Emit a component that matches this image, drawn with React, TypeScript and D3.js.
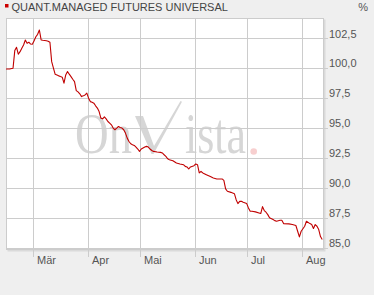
import React, { useEffect } from "react";
import * as d3 from "d3";

const title = "QUANT.MANAGED FUTURES UNIVERSAL";
const unitLabel = "%";
const monthTicks = ["2013-03-01", "2013-04-01", "2013-05-01", "2013-06-01", "2013-07-01", "2013-08-01"];
const monthLabels = ["Mär", "Apr", "Mai", "Jun", "Jul", "Aug"];
const yTicks = [85, 87.5, 90, 92.5, 95, 97.5, 100, 102.5];
const yTickLabels = ["85,0", "87,5", "90,0", "92,5", "95,0", "97,5", "100,0", "102,5"];

const dates = [
  "2013-02-13", "2013-02-15", "2013-02-17", "2013-02-18", "2013-02-19", "2013-02-20", "2013-02-21", "2013-02-22",
  "2013-02-23", "2013-02-24", "2013-02-25", "2013-02-26", "2013-02-27", "2013-02-28", "2013-03-01", "2013-03-02",
  "2013-03-03", "2013-03-04", "2013-03-05", "2013-03-06", "2013-03-08", "2013-03-09", "2013-03-10", "2013-03-11",
  "2013-03-12", "2013-03-13", "2013-03-15", "2013-03-16", "2013-03-17", "2013-03-18", "2013-03-19", "2013-03-20",
  "2013-03-21", "2013-03-22", "2013-03-23", "2013-03-24", "2013-03-25", "2013-03-26", "2013-03-27", "2013-03-28",
  "2013-03-29", "2013-03-30", "2013-03-31", "2013-04-01", "2013-04-02", "2013-04-03", "2013-04-04", "2013-04-05",
  "2013-04-06", "2013-04-07", "2013-04-08", "2013-04-09", "2013-04-10", "2013-04-11", "2013-04-12", "2013-04-13",
  "2013-04-14", "2013-04-15", "2013-04-16", "2013-04-17", "2013-04-18", "2013-04-19", "2013-04-20", "2013-04-21",
  "2013-04-22", "2013-04-23", "2013-04-24", "2013-04-25", "2013-04-26", "2013-04-27", "2013-04-28", "2013-04-29",
  "2013-04-30", "2013-05-01", "2013-05-02", "2013-05-03", "2013-05-04", "2013-05-05", "2013-05-06", "2013-05-07",
  "2013-05-08", "2013-05-10", "2013-05-12", "2013-05-13", "2013-05-14", "2013-05-15", "2013-05-16", "2013-05-17",
  "2013-05-19", "2013-05-21", "2013-05-23", "2013-05-25", "2013-05-26", "2013-05-27", "2013-05-28", "2013-05-29",
  "2013-05-31", "2013-06-01", "2013-06-02", "2013-06-03", "2013-06-04", "2013-06-05", "2013-06-07", "2013-06-09",
  "2013-06-11", "2013-06-13", "2013-06-16", "2013-06-17", "2013-06-18", "2013-06-19", "2013-06-21", "2013-06-23",
  "2013-06-24", "2013-06-25", "2013-06-26", "2013-06-27", "2013-06-28", "2013-06-30", "2013-07-01", "2013-07-02",
  "2013-07-03", "2013-07-05", "2013-07-07", "2013-07-08", "2013-07-09", "2013-07-10", "2013-07-11", "2013-07-12",
  "2013-07-13", "2013-07-15", "2013-07-16", "2013-07-17", "2013-07-19", "2013-07-20", "2013-07-21", "2013-07-24",
  "2013-07-26", "2013-07-28", "2013-07-29", "2013-07-30", "2013-07-31", "2013-08-02", "2013-08-03", "2013-08-05",
  "2013-08-06", "2013-08-07", "2013-08-08", "2013-08-09", "2013-08-10", "2013-08-11", "2013-08-12",
];

const values = [
  100.0, 100.0, 100.06, 101.53, 101.81, 101.23, 101.44, 101.73,
  102.0, 102.42, 102.14, 102.23, 102.08, 102.06, 102.36, 102.69,
  102.89, 103.25, 102.42, 102.39, 102.36, 102.31, 102.23, 100.61,
  100.06, 99.55, 99.42, 99.36, 99.31, 98.81, 99.5, 99.78,
  99.56, 99.36, 99.14, 98.94, 98.19, 98.08, 97.92, 97.69,
  97.75, 97.83, 97.98, 97.56, 97.27, 97.22, 97.14, 96.92,
  96.73, 96.44, 95.89, 95.83, 96.0, 95.83, 95.61, 95.48,
  95.33, 95.06, 94.92, 95.06, 95.19, 95.11, 95.06, 94.92,
  94.64, 94.22, 93.94, 93.75, 93.67, 93.61, 93.47, 93.31,
  93.11, 93.31, 93.39, 93.47, 93.53, 93.47, 93.31, 93.19,
  93.11, 93.06, 93.03, 92.98, 92.83, 92.69, 92.5, 92.42,
  92.33, 92.14, 92.06, 92.0, 91.86, 91.81, 91.64, 91.81,
  91.92, 92.06, 92.0, 91.31, 91.44, 91.31, 91.17, 91.03,
  90.89, 90.81, 90.81, 90.69, 89.98, 89.78, 89.69, 89.58,
  89.08, 88.75, 88.94, 88.94, 88.86, 88.75, 88.39, 88.11,
  88.11, 88.06, 87.97, 87.92, 88.5, 88.17, 88.03, 87.83,
  87.56, 87.42, 87.33, 87.28, 87.36, 87.36, 87.08, 87.06,
  87.0, 86.92, 86.44, 85.97, 86.44, 86.86, 87.28, 87.08,
  87.0, 86.67, 87.0, 86.86, 86.58, 86.0, 85.75,
];

const W = 374;
const H = 295;
const plot = { left: 6, top: 18, right: 324, bottom: 250 };
const font = "'Liberation Sans', Arial, sans-serif";
const serif = "'Liberation Serif', 'DejaVu Serif', serif";

export default function App() {
  useEffect(() => {
    document.body.style.margin = "0";
    document.body.style.background = "#efefef";
  }, []);

  const parse = d3.utcParse("%Y-%m-%d");
  const x = d3
    .scaleUtc()
    .domain([parse("2013-02-13")!, parse("2013-08-13")!])
    .range([plot.left, plot.right]);
  const y = d3.scaleLinear().domain([85, 102.5]).range([248.5, 39]);

  const pts = dates.map((d, i) => [parse(d)!, values[i]] as [Date, number]);
  const line = d3
    .line<[Date, number]>()
    .x((d) => x(d[0]))
    .y((d) => y(d[1]));

  const snap = (v: number) => Math.round(v) + 0.5;

  return (
    <svg width={W} height={H} style={{ position: "absolute", left: 0, top: 0, display: "block" }}>
      <rect x={0} y={0} width={W} height={H} fill="#efefef" />
      {/* title */}
      <rect x={5} y={4} width={3.5} height={3.5} fill="#cc0000" />
      <text x={11.5} y={10.5} fontFamily={font} fontSize={11} fill="#444">
        {title}
      </text>
      <text x={368} y={10.5} fontFamily={font} fontSize={11} fill="#555" textAnchor="end">
        {unitLabel}
      </text>

      {/* plot shadow and background */}
      <rect x={plot.left + 1.5} y={plot.top + 1.5} width={plot.right - plot.left} height={plot.bottom - plot.top} fill="#dadada" />
      <rect x={plot.left + 0.5} y={plot.top + 0.5} width={plot.right - plot.left - 1} height={plot.bottom - plot.top - 1} fill="#ffffff" stroke="#cccccc" />

      {/* watermark */}
      <g fill="#d6d6d6">
        <text x={75} y={153} fontFamily={serif} fontSize={58} textLength={57} lengthAdjust="spacingAndGlyphs">
          On
        </text>
        <path d="M135,116 L143,116 L154,146 L180.5,101 L182,101.8 L153.5,154 L151.5,154 Z" />
        <text x={185} y={153} fontFamily={serif} fontSize={58} textLength={61} lengthAdjust="spacingAndGlyphs">
          ista
        </text>
      </g>
      <circle cx={253.7} cy={151.5} r={3.3} fill="#f7cfcf" />

      {/* horizontal grid + right ticks */}
      {yTicks.map((t, i) => (
        <g key={"y" + i}>
          <line x1={plot.left} x2={328} y1={snap(y(t)) - 1} y2={snap(y(t)) - 1} stroke="#cccccc" />
          <text x={329} y={y(t) - 1.5} fontFamily={font} fontSize={11} fill="#555">
            {yTickLabels[i]}
          </text>
        </g>
      ))}

      {/* vertical grid + bottom ticks */}
      {monthTicks.map((m, i) => {
        const xx = snap(x(parse(m)!)) - 1;
        return (
          <g key={"m" + i}>
            <line x1={xx} x2={xx} y1={plot.top} y2={257} stroke="#cccccc" />
            <text x={xx + 3.5} y={264} fontFamily={font} fontSize={11} fill="#555">
              {monthLabels[i]}
            </text>
          </g>
        );
      })}

      {/* series */}
      <path d={line(pts) || ""} fill="none" stroke="#c00000" strokeWidth={1.1} strokeLinejoin="round" />
    </svg>
  );
}
